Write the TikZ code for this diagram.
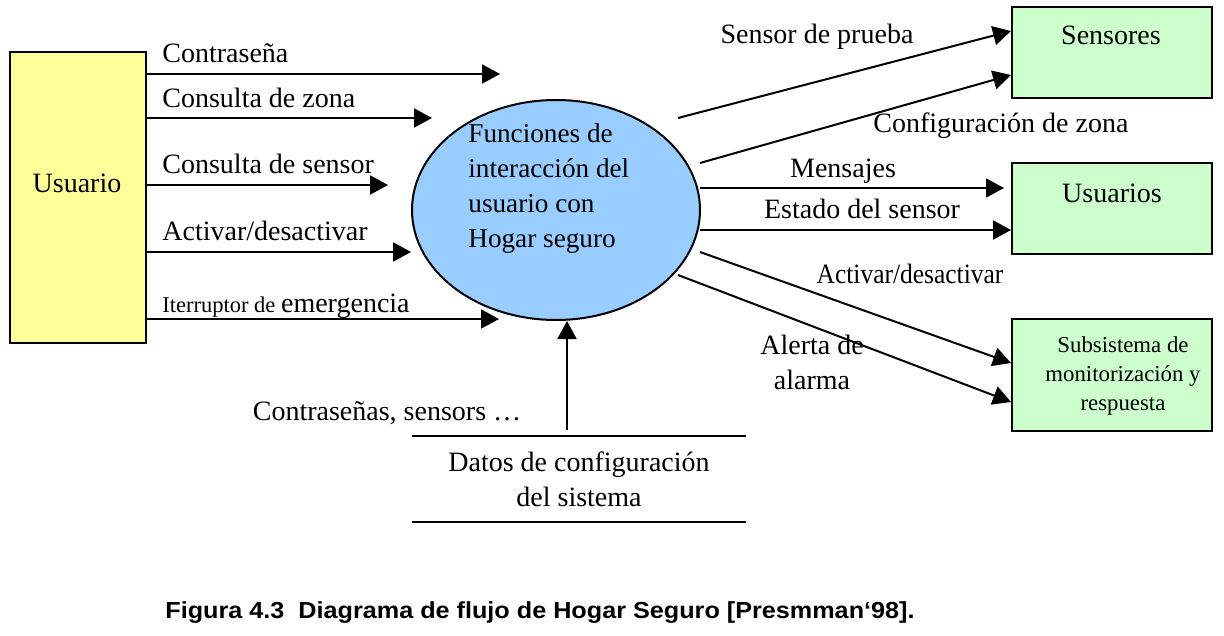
\documentclass[tikz,border=0pt]{standalone}
\usepackage{fontspec}
\setmainfont{Liberation Serif}
\newfontfamily\capfont{Liberation Sans}
\usepackage{tikz}
\usetikzlibrary{calc,arrows.meta,shapes.geometric}
\definecolor{userfill}{HTML}{FFFF99}
\definecolor{procfill}{HTML}{99CCFF}
\definecolor{entfill}{HTML}{CCFFCC}
\tikzset{
  flow/.style={draw=black, line width=1pt, -{Triangle[length=9pt,width=9.5pt]}},
  plain/.style={draw=black, line width=1pt},
  userbox/.style={draw=black, line width=1pt, fill=userfill, minimum width=68pt, minimum height=145.5pt, inner sep=0pt},
  entbox/.style={draw=black, line width=1pt, fill=entfill, minimum width=100pt, minimum height=45.5pt, inner sep=0pt},
  proc/.style={ellipse, draw=black, line width=1pt, fill=procfill, minimum width=144pt, minimum height=110pt, inner sep=0pt},
  lab/.style={font=\fontsize{14}{17.5}\selectfont, inner sep=0pt},
  smalllab/.style={font=\fontsize{11.4}{14.5}\selectfont, inner sep=0pt},
}

\begin{document}
\begin{tikzpicture}[x=0.5pt,y=-0.5pt]
  \useasboundingbox (0,0) rectangle (1224,636);

  % entities and process
  \node[userbox] (usuario) at (78,197.5) {};
  \node[lab,anchor=base] (usuario-t) at (77,192) {Usuario};
  \node[proc] (proc) at (556,210) {};
  \node[lab,align=left,anchor=west,font=\fontsize{13.6}{17.5}\selectfont] (proc-t) at (468,188.5)
    {Funciones de\\interacción del\\usuario con\\Hogar seguro};
  \node[entbox] (sensores) at (1112,52.5) {};
  \node[lab,anchor=base] (sensores-t) at (1111,45) {Sensores};
  \node[entbox] (usuarios) at (1112,208.5) {};
  \node[lab,anchor=base] (usuarios-t) at (1112,203) {Usuarios};
  \node[entbox,minimum height=56pt] (subsis) at (1112,375) {};
  \node[smalllab,align=center] (subsis-t) at ($(subsis.center)+(11,1)$)
    {Subsistema de\\monitorización y\\respuesta};
  \node[lab,align=center,minimum width=167pt,minimum height=43pt] (datos) at (579,479)
    {Datos de configuración\\del sistema};
  \draw[plain] (datos.north west) -- (datos.north east);
  \draw[plain] (datos.south west) -- (datos.south east);

  % usuario -> proceso
  \coordinate (c1) at (500,74);
  \coordinate (c2) at (432,118);
  \coordinate (c3) at (388,185);
  \coordinate (c4) at (411,252);
  \coordinate (c5) at (499,319);
  \draw[flow] (usuario.east |- c1) -- (c1);
  \draw[flow] (usuario.east |- c2) -- (c2);
  \draw[flow] (usuario.east |- c3) -- (c3);
  \draw[flow] (usuario.east |- c4) -- (c4);
  \draw[flow] (usuario.east |- c5) -- (c5);
  \node[lab,anchor=base west] at (162,63) {Contraseña};
  \node[lab,anchor=base west] at (162,108) {Consulta de zona};
  \node[lab,anchor=base west] at (162,174) {Consulta de sensor};
  \node[lab,anchor=base west] at (162,241) {Activar/desactivar};
  \node[lab,anchor=base west] at (162,312)
    {{\fontsize{11.25}{14}\selectfont Iterruptor de }emergencia};

  % proceso -> entidades
  \coordinate (s1) at (678,118);
  \coordinate (s2) at (700,163);
  \coordinate (s3) at (700,188);
  \coordinate (s4) at (700,230);
  \coordinate (s5) at (700,252);
  \coordinate (s6) at (678,275);
  \coordinate (mens-end) at (1004,188);
  \draw[flow] (s1) -- ($(sensores.west)+(0,-21.5)$);
  \draw[flow] (s2) -- ($(sensores.west)+(0,22.5)$);
  \draw[flow] (s3) -- (mens-end);
  \draw[flow] (s4) -- (usuarios.west |- s4);
  \draw[flow] (s5) -- ($(subsis.west)+(0,-12)$);
  \draw[flow] (s6) -- ($(subsis.west)+(0,27)$);
  \node[lab,anchor=base] at (817,44) {Sensor de prueba};
  \node[lab,anchor=base west] at (873,133) {Configuración de zona};
  \node[lab,anchor=base] at (843,177) {Mensajes};
  \node[lab,anchor=base] at (862,219) {Estado del sensor};
  \node[lab,anchor=base] at (910,283) {\scalebox{0.91}[1]{Activar/desactivar}};
  \node[lab,align=center] at (812,362) {Alerta de\\alarma};

  % almacen -> proceso
  \coordinate (d1) at (567,430);
  \draw[flow] (d1) -- (d1 |- proc.south);
  \node[lab,anchor=base] at (387,420) {Contraseñas, sensors …};

  \node[anchor=base west,inner sep=0pt,font=\capfont\bfseries\fontsize{12.6}{14}\selectfont]
    (caption) at (165,618) {\scalebox{1}[0.92]{Figura 4.3\ \ Diagrama de flujo de Hogar Seguro [Presmman‘98].}};
\end{tikzpicture}
\end{document}
